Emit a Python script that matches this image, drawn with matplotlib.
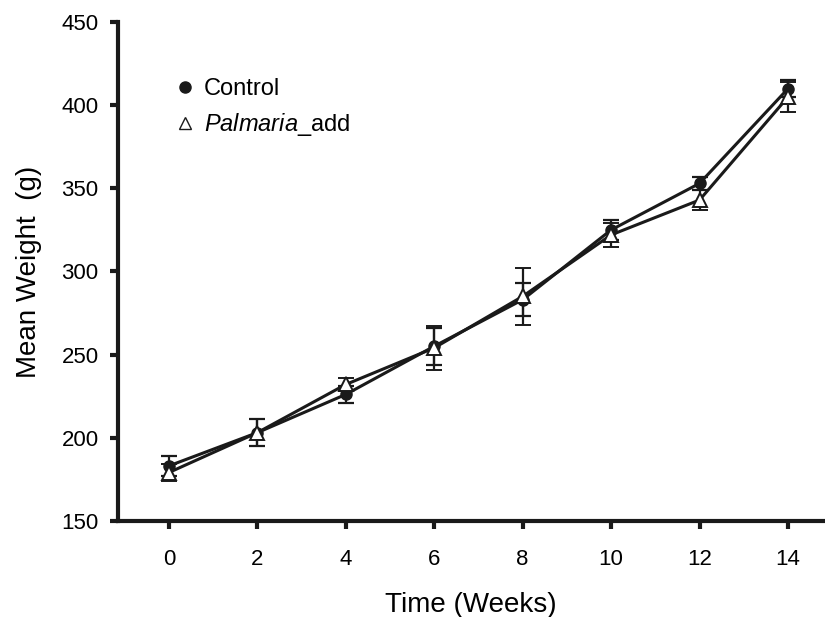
import matplotlib
matplotlib.use("Agg")
import matplotlib.pyplot as plt
from matplotlib.lines import Line2D

plt.rcParams['font.family'] = ['Liberation Sans', 'DejaVu Sans']
plt.rcParams['mathtext.fontset'] = 'custom'
plt.rcParams['mathtext.it'] = 'Liberation Sans:italic'
plt.rcParams['mathtext.rm'] = 'Liberation Sans'

# data
weeks = [0, 2, 4, 6, 8, 10, 12, 14]
control = [183, 203, 226, 255, 283, 325, 353, 410]
control_err = [6, 8, 5, 11, 10, 6, 4, 5]
palmaria = [179, 203, 232, 254, 285, 322, 343, 405]
palmaria_err = [5, 8, 4, 13, 17, 7, 6, 9]

fig = plt.figure(figsize=(8.25, 6.17), dpi=100)
ax = fig.add_axes([0.143, 0.156, 0.855, 0.808])

ax.errorbar(weeks, control, yerr=control_err, color='#1a1a1a', lw=2.2,
            marker='o', ms=8, mfc='#1a1a1a', mec='#1a1a1a',
            capsize=6, capthick=1.6, elinewidth=1.6, zorder=3)
ax.errorbar(weeks, palmaria, yerr=palmaria_err, color='#1a1a1a', lw=2.2,
            marker='^', ms=10, mfc='white', mec='#1a1a1a', mew=1.4,
            capsize=6, capthick=1.6, elinewidth=1.6, zorder=4)

ax.set_xlim(-1.15, 14.8)
ax.set_ylim(150, 450)
ax.set_xticks(weeks)
ax.set_yticks(range(150, 451, 50))

for s in ['top', 'right']:
    ax.spines[s].set_visible(False)
for s in ['left', 'bottom']:
    ax.spines[s].set_linewidth(3)
    ax.spines[s].set_color('#1a1a1a')
ax.tick_params(direction='out', length=6, width=3, color='#1a1a1a',
               labelsize=16)
ax.tick_params(axis='x', pad=14)
ax.tick_params(axis='y', pad=8)

ax.set_xlabel('Time (Weeks)', fontsize=20, labelpad=16)
ax.set_ylabel('Mean Weight  (g)', fontsize=20, labelpad=14)

# legend shows markers only
hs = [Line2D([], [], marker='o', ls='none', color='#1a1a1a', ms=8),
      Line2D([], [], marker='^', ls='none', mfc='white', mec='#1a1a1a', ms=8)]
ax.legend(hs, ['Control', r'$\it{Palmaria}$_add'], loc='upper left',
          bbox_to_anchor=(0.055, 0.93), frameon=False, fontsize=17,
          handlelength=0.6, handletextpad=0.5, labelspacing=0.45)

fig.savefig('out.png', dpi=100)
